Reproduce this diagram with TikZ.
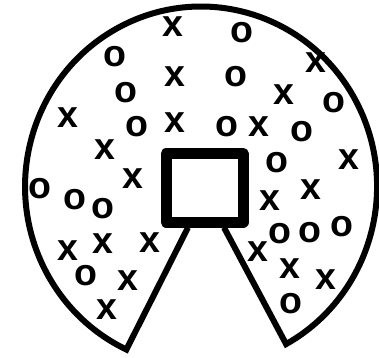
\documentclass[tikz,border=0pt]{standalone}
\usepackage{fontspec}
\setmainfont{Liberation Sans}
\begin{document}
\begin{tikzpicture}[x=1pt,y=1pt,
  letter/.style={inner sep=0pt, font=\fontsize{37.5}{37.5}\selectfont\bfseries},
  outline/.style={line width=6pt, line join=miter}]
\useasboundingbox (0,0) rectangle (379,357);
\coordinate (C) at (201,170.5);
\coordinate (R) at (286.1,12.9);
\coordinate (L) at (126.3,7.5);
\node[draw, line width=11pt, line join=round, minimum width=77pt, minimum height=68.5pt, inner sep=0pt] (box) at (204.5,169.25) {};
\coordinate (QL) at ([xshift=-16.5pt]box.south);
\coordinate (QR) at ([xshift=19.5pt]box.south);
\draw[outline] (QR) -- (R) arc[start angle=-61.1, end angle=244.9, x radius=176, y radius=180] -- (QL);
% x letters
\node[letter] (x1) at (173,330) {x};
\node[letter] (x2) at (175,280) {x};
\node[letter] (x3) at (68,239) {x};
\node[letter] (x4) at (175,234) {x};
\node[letter] (x5) at (105,207) {x};
\node[letter] (x6) at (133,178) {x};
\node[letter] (x7) at (316,294) {x};
\node[letter] (x8) at (284,262) {x};
\node[letter] (x9) at (259,230) {x};
\node[letter] (x10) at (349,197) {x};
\node[letter] (x11) at (311,167.5) {x};
\node[letter] (x12) at (270,156.5) {x};
\node[letter] (x13) at (68,106) {x};
\node[letter] (x14) at (103,113) {x};
\node[letter] (x15) at (150,114) {x};
\node[letter] (x16) at (128,76) {x};
\node[letter] (x17) at (107,47) {x};
\node[letter] (x18) at (258,105) {x};
\node[letter] (x19) at (290,88) {x};
\node[letter] (x20) at (326,77) {x};
% o letters
\node[letter] (o1) at (115,300) {o};
\node[letter] (o2) at (126,264) {o};
\node[letter] (o3) at (137,230) {o};
\node[letter] (o4) at (242,324) {o};
\node[letter] (o5) at (236,280) {o};
\node[letter] (o6) at (334,254) {o};
\node[letter] (o7) at (227,230) {o};
\node[letter] (o8) at (302,225) {o};
\node[letter] (o9) at (277,194) {o};
\node[letter] (o10) at (40,168) {o};
\node[letter] (o11) at (75,157) {o};
\node[letter] (o12) at (103,148) {o};
\node[letter] (o13) at (86,81) {o};
\node[letter] (o14) at (280,123.5) {o};
\node[letter] (o15) at (310,124) {o};
\node[letter] (o16) at (342,130.3) {o};
\node[letter] (o17) at (291,53) {o};
\end{tikzpicture}
\end{document}
